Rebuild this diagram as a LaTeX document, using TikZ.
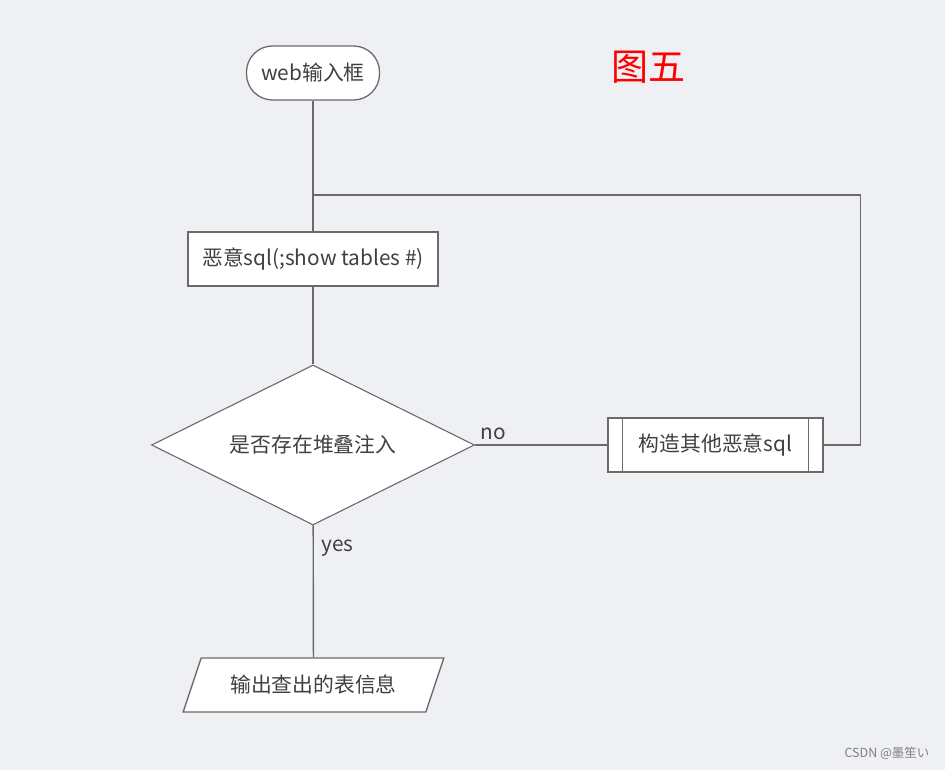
\documentclass[tikz,border=0pt]{standalone}
\usepackage{fontspec}
\setmainfont{Noto Sans CJK SC}
\usetikzlibrary{shapes.geometric}
\definecolor{bgcol}{HTML}{EEF0F4}
\definecolor{linecol}{HTML}{6A6A6A}
\definecolor{txtcol}{HTML}{404040}

\begin{document}
\begin{tikzpicture}[x=1pt, y=1pt, line width=1.4pt,
    every node/.style={font=\fontsize{20.8}{24}\selectfont, text=txtcol},
    box/.style={draw=linecol, fill=white, line width=1.3pt},
    flow/.style={draw=linecol, line width=1.4pt}]
    % 0. 背景和边界
    \fill[bgcol] (0, 0) rectangle (945, 770);
    \useasboundingbox (0, 0) rectangle (945, 770);

    % 1. 画节点
    \node[box, rectangle, rounded corners=26pt, minimum width=133pt, minimum height=54pt] (web) at (313, 697) {web输入框};
    \coordinate (join) at (313, 575);
    \node[box, rectangle, minimum width=250pt, minimum height=54pt] (inject) at (313, 511) {恶意sql(;show tables \#)};
    \node[box, diamond, aspect=2, minimum width=323pt, minimum height=160pt, inner sep=0pt, line width=1.1pt] (stack) at (313, 325) {是否存在堆叠注入};
    \node[box, rectangle, minimum width=215pt, minimum height=54pt] (other) at (715.5, 325) {构造其他恶意sql};
    \draw[linecol, line width=1.3pt] ([xshift=15pt]other.north west) -- ([xshift=15pt]other.south west);
    \draw[linecol, line width=1.3pt] ([xshift=-15pt]other.north east) -- ([xshift=-15pt]other.south east);
    \node[box, trapezium, trapezium left angle=62, trapezium right angle=118, trapezium stretches=true,
        minimum width=261pt, minimum height=54pt] (show) at (313.5, 85) {输出查出的表信息};

    % 2. 画连线
    \draw[flow] (web) -- (inject);
    \draw[flow] (inject) -- (stack);
    \draw[flow] (stack) -- node[pos=0.14, above=1pt] {no} (other);
    \draw[flow] (other.east) -- ++(37, 0) |- (join);
    \draw[flow] (stack) -- node[pos=0.17, right=4pt] {yes} (show);

    % 3. 标题和水印
    \node[text=red, font=\fontsize{37}{40}\selectfont] (title) at (648, 703) {图五};
    \node[text=gray, font=\fontsize{12.5}{14}\selectfont] (mark) at (887, 17) {CSDN @墨笙い};
\end{tikzpicture}
\end{document}
